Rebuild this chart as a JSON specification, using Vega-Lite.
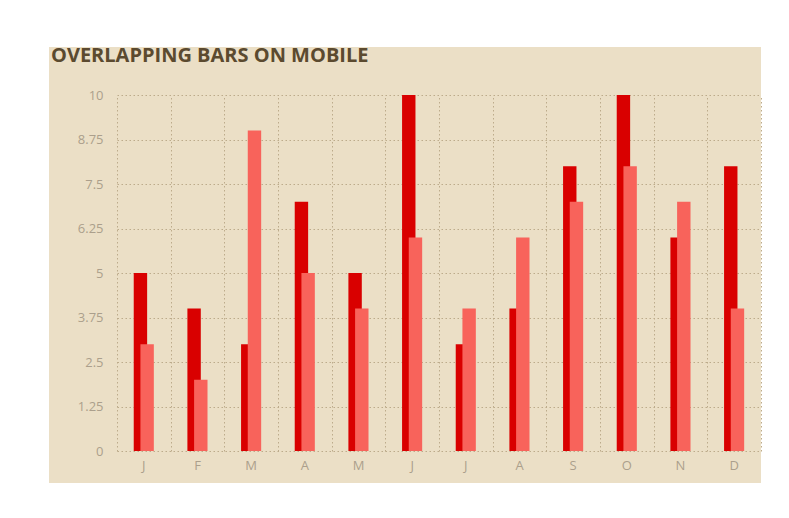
{
  "$schema": "https://vega.github.io/schema/vega-lite/v6.json",
  "width": 712,
  "height": 436,
  "autosize": {"type": "none"},
  "padding": {"left": 49, "top": 47, "right": 28, "bottom": 35},
  "background": "white",
  "title": {
    "text": "OVERLAPPING BARS ON MOBILE",
    "anchor": "start",
    "frame": "group",
    "orient": "top",
    "offset": -18,
    "baseline": "top",
    "font": "Open Sans",
    "fontSize": 20,
    "fontWeight": "bold",
    "color": "#5b4a2f",
    "dx": 2,
    "dy": 1
  },
  "data": {
    "values": [
      {"month": "Jan", "series": "A", "value": 5},
      {"month": "Jan", "series": "B", "value": 3},
      {"month": "Feb", "series": "A", "value": 4},
      {"month": "Feb", "series": "B", "value": 2},
      {"month": "Mar", "series": "A", "value": 3},
      {"month": "Mar", "series": "B", "value": 9},
      {"month": "Apr", "series": "A", "value": 7},
      {"month": "Apr", "series": "B", "value": 5},
      {"month": "May", "series": "A", "value": 5},
      {"month": "May", "series": "B", "value": 4},
      {"month": "Jun", "series": "A", "value": 10},
      {"month": "Jun", "series": "B", "value": 6},
      {"month": "Jul", "series": "A", "value": 3},
      {"month": "Jul", "series": "B", "value": 4},
      {"month": "Aug", "series": "A", "value": 4},
      {"month": "Aug", "series": "B", "value": 6},
      {"month": "Sep", "series": "A", "value": 8},
      {"month": "Sep", "series": "B", "value": 7},
      {"month": "Oct", "series": "A", "value": 10},
      {"month": "Oct", "series": "B", "value": 8},
      {"month": "Nov", "series": "A", "value": 6},
      {"month": "Nov", "series": "B", "value": 7},
      {"month": "Dec", "series": "A", "value": 8},
      {"month": "Dec", "series": "B", "value": 4}
    ]
  },
  "encoding": {
    "y": {
      "field": "value",
      "type": "quantitative",
      "scale": {"domain": [0, 10], "range": [404, 48], "nice": false},
      "axis": {
        "title": null,
        "offset": -68,
        "domain": false,
        "ticks": false,
        "tickSize": 0,
        "labelPadding": 14,
        "values": [0, 1.25, 2.5, 3.75, 5, 6.25, 7.5, 8.75, 10],
        "labelExpr": "'' + datum.value",
        "labelFont": "Open Sans",
        "labelFontSize": 13,
        "labelColor": "#ab9f8c",
        "grid": true,
        "gridColor": "#bcab8b",
        "gridDash": [1.5, 2.5],
        "gridWidth": 1
      }
    }
  },
  "layer": [
    {
      "transform": [{"filter": "datum.series === 'A'"}],
      "mark": {"type": "bar", "width": 13.4, "xOffset": -3.4, "color": "#d90000"},
      "encoding": {
        "x": {
          "field": "month",
          "type": "nominal",
          "sort": null,
          "scale": {"range": [68, 712], "paddingInner": 0, "paddingOuter": 0},
          "axis": {
            "orient": "top",
            "title": null,
            "domain": false,
            "ticks": false,
            "labels": false,
            "grid": true,
            "tickBand": "extent",
            "gridColor": "#bcab8b",
            "gridDash": [1.5, 2.5],
            "gridWidth": 1
          }
        }
      }
    },
    {
      "transform": [{"filter": "datum.series === 'B'"}],
      "mark": {"type": "bar", "width": 13.4, "xOffset": 3.3, "color": "#f8635b"},
      "encoding": {
        "x": {
          "field": "month",
          "type": "nominal",
          "sort": null,
          "scale": {"range": [68, 712], "paddingInner": 0, "paddingOuter": 0},
          "axis": {
            "orient": "bottom",
            "title": null,
            "offset": -32,
            "domain": false,
            "ticks": false,
            "tickSize": 0,
            "grid": false,
            "labelPadding": 8,
            "labelAngle": 0,
            "labelExpr": "datum.value ? substring(datum.value, 0, 1) : ''",
            "labelFont": "Open Sans",
            "labelFontSize": 13,
            "labelColor": "#ab9f8c"
          }
        }
      }
    }
  ],
  "resolve": {"axis": {"x": "independent"}},
  "config": {"view": {"fill": "#ebdfc6", "stroke": null}}
}
